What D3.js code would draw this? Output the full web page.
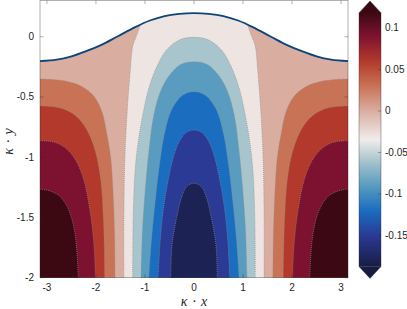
<!DOCTYPE html>
<meta charset="utf-8">
<style>
body { margin: 0; background: #fff; }
.tick-label { font: 10px "Liberation Sans", Arial, Helvetica, sans-serif; fill: #262626; }
.axis-title { font: italic 14px "Liberation Serif", "Times New Roman", serif; fill: #262626; word-spacing: 1.5px; }
</style>
<svg width="407" height="309"></svg>
<script src="https://d3js.org/d3.v7.min.js"></script>
<script>

// ---- data ----
var xTicks = [-3, -2, -1, 0, 1, 2, 3];
var yTicks = [0, -0.5, -1, -1.5, -2];
var cbTicks = [0.1, 0.05, 0, -0.05, -0.1, -0.15];
var colorRange = [-0.1876, 0.1184];
var levels = [0.09, 0.06, 0.03, 0, -0.03, -0.06, -0.09, -0.12, -0.15, -0.18];

// free surface, left half (x from -pi to 0), mirrored about x = 0
var surfaceLeft = [[-Math.PI, -0.202], [-2.8, -0.19], [-2.5, -0.163], [-2.2, -0.12], [-1.9, -0.07],
  [-1.57, 0.0], [-1.2, 0.08], [-0.9, 0.135], [-0.6, 0.172], [-0.3, 0.19], [0, 0.196]];

// contour lines, left half. positive levels run from the side wall (or surface) to the bottom,
// negative levels are arches from the bottom up to x = 0
var contour009 = [[-Math.PI, -1.264], [-2.94, -1.28], [-2.75, -1.32], [-2.6, -1.40], [-2.5, -1.5], [-2.43, -1.63], [-2.39, -1.78], [-2.36, -2]];
var contour006 = [[-Math.PI, -0.863], [-2.95, -0.868], [-2.75, -0.89], [-2.55, -0.95], [-2.38, -1.05], [-2.24, -1.2], [-2.14, -1.4], [-2.07, -1.6], [-2.03, -1.8], [-2.01, -2]];
var contour003 = [[-Math.PI, -0.575], [-2.9, -0.58], [-2.6, -0.61], [-2.35, -0.68], [-2.15, -0.8], [-2.0, -0.97], [-1.9, -1.2], [-1.85, -1.5], [-1.83, -1.75], [-1.82, -2]];
var contour000 = [[-Math.PI, -0.351], [-2.9, -0.355], [-2.6, -0.37], [-2.3, -0.41], [-2.05, -0.49], [-1.88, -0.62], [-1.78, -0.8], [-1.7, -1.0], [-1.65, -1.3], [-1.62, -1.65], [-1.61, -2]];
var contourM003 = [[-1.1, 0.09], [-1.18, 0.0], [-1.25, -0.08], [-1.3, -0.28], [-1.36, -0.6], [-1.41, -1.0], [-1.43, -1.5], [-1.43, -2]];
var contourM006 = [[-1.25, -2], [-1.24, -1.5], [-1.2, -1.1], [-1.13, -0.85], [-1.04, -0.64], [-0.93, -0.44], [-0.76, -0.25], [-0.56, -0.11], [-0.29, -0.025], [0, -0.005]];
var contourM009 = [[-1.08, -2], [-1.05, -1.6], [-0.99, -1.25], [-0.92, -0.95], [-0.82, -0.65], [-0.68, -0.45], [-0.5, -0.32], [-0.27, -0.23], [0, -0.207]];
var contourM012 = [[-0.92, -2], [-0.87, -1.7], [-0.8, -1.4], [-0.7, -1.05], [-0.6, -0.8], [-0.45, -0.6], [-0.23, -0.485], [0, -0.456]];
var contourM015 = [[-0.73, -2], [-0.69, -1.7], [-0.63, -1.45], [-0.53, -1.2], [-0.42, -1.0], [-0.3, -0.87], [-0.16, -0.795], [0, -0.774]];
var contourM018 = [[-0.475, -2], [-0.46, -1.8], [-0.435, -1.687], [-0.35, -1.494], [-0.25, -1.33], [-0.15, -1.245], [0, -1.217]];

var contours = [contour009, contour006, contour003, contour000, contourM003,
                contourM006, contourM009, contourM012, contourM015, contourM018];

// diverging colormap (balance-like), position 0..1 along the colour range
var balanceStops = [[0, "#181c43"], [0.123, "#2a3a95"], [0.22, "#1a6dc0"], [0.32, "#5a9cc0"],
  [0.418, "#a9c5cd"], [0.5, "#f1ecec"], [0.614, "#d9ada0"], [0.712, "#c97255"],
  [0.81, "#b2392b"], [0.908, "#7d1230"], [1, "#3c0912"]];

// ---- drawing ----
var svg = d3.select("svg");
var plot = {left: 40, right: 348, top: 0.6, bottom: 277.7};

var x = d3.scaleLinear().domain([-Math.PI, Math.PI]).range([plot.left, plot.right]);
var y = d3.scaleLinear().domain([-2, 0.3]).range([plot.bottom, plot.top]);

var c0 = colorRange[0], c1 = colorRange[1];
var color = d3.scaleLinear()
    .domain(balanceStops.map(function(d) { return c0 + d[0] * (c1 - c0); }))
    .range(balanceStops.map(function(d) { return d[1]; }))
    .interpolate(d3.interpolateRgb)
    .clamp(true);

var line = d3.line()
    .x(function(d) { return x(d[0]); })
    .y(function(d) { return y(d[1]); })
    .curve(d3.curveCatmullRom.alpha(0.5));

function mirror(pts) { return pts.map(function(p) { return [-p[0], p[1]]; }); }
function pt(a, b) { return "L" + x(a) + "," + y(b); }

var surfaceFull = surfaceLeft.concat(mirror(surfaceLeft).reverse().slice(1));

var defs = svg.append("defs");
defs.append("clipPath").attr("id", "water")
  .append("path")
    .attr("d", line(surfaceFull) + pt(Math.PI, -2) + pt(-Math.PI, -2) + "Z");

var g = svg.append("g").attr("clip-path", "url(#water)");

// band between -0.06 and -0.03 as background
g.append("rect")
    .attr("x", plot.left).attr("y", plot.top)
    .attr("width", plot.right - plot.left).attr("height", plot.bottom - plot.top)
    .attr("fill", color(levels[4]));

// positive side: each band coloured by its upper bound
for (var i = 4; i >= 0; i--) {
  var upper = i === 0 ? colorRange[1] : levels[i - 1];
  [1, -1].forEach(function(side) {
    var pts = side === 1 ? contours[i] : mirror(contours[i]);
    var wall = -side * Math.PI;
    var d = line(pts) + pt(wall, -2);
    if (pts[0][1] > -0.3 && Math.abs(pts[0][0]) < 3) d += pt(wall, 0.3) + pt(pts[0][0], 0.3);
    g.append("path").attr("d", d + "Z").attr("fill", color(upper));
  });
}

// negative side: arches
for (var j = 5; j < 10; j++) {
  var full = contours[j].concat(mirror(contours[j]).reverse().slice(1));
  g.append("path").attr("d", line(full) + "Z").attr("fill", color(levels[j]));
}

// dotted contour lines
contours.forEach(function(c, k) {
  var paths = k < 5 ? [c, mirror(c)] : [c.concat(mirror(c).reverse().slice(1))];
  paths.forEach(function(p) {
    g.append("path").attr("d", line(p))
      .attr("fill", "none")
      .attr("stroke", "#8c8c8c")
      .attr("stroke-width", 0.7)
      .attr("stroke-dasharray", "0.9,1.1");
  });
});

// free surface
svg.append("path")
    .attr("d", line(surfaceFull))
    .attr("fill", "none")
    .attr("stroke", "#0d4479")
    .attr("stroke-width", 1.8);

// ---- axes ----
var axisColor = "#262626", tickLen = 3.5;
svg.append("rect")
    .attr("x", plot.left).attr("y", plot.top)
    .attr("width", plot.right - plot.left).attr("height", plot.bottom - plot.top)
    .attr("fill", "none").attr("stroke", axisColor).attr("stroke-width", 0.6).attr("stroke-opacity", 0.6);

xTicks.forEach(function(t) {
  [[plot.bottom, -tickLen], [plot.top, tickLen]].forEach(function(e) {
    svg.append("line").attr("x1", x(t)).attr("x2", x(t)).attr("y1", e[0]).attr("y2", e[0] + e[1])
      .attr("stroke", axisColor).attr("stroke-width", 0.6).attr("stroke-opacity", 0.6);
  });
  svg.append("text").attr("class", "tick-label")
    .attr("x", x(t)).attr("y", 291).attr("text-anchor", "middle").text(String(t));
});

yTicks.forEach(function(t) {
  [[plot.left, tickLen], [plot.right, -tickLen]].forEach(function(e) {
    svg.append("line").attr("y1", y(t)).attr("y2", y(t)).attr("x1", e[0]).attr("x2", e[0] + e[1])
      .attr("stroke", axisColor).attr("stroke-width", 0.6).attr("stroke-opacity", 0.6);
  });
  svg.append("text").attr("class", "tick-label")
    .attr("x", 34).attr("y", y(t)).attr("dy", "0.35em").attr("text-anchor", "end").text(String(t));
});

svg.append("text").attr("class", "axis-title")
    .attr("x", x(0)).attr("y", 306).attr("text-anchor", "middle").text("κ · x");
svg.append("text").attr("class", "axis-title")
    .attr("transform", "translate(13," + y(-0.87) + ") rotate(-90)")
    .attr("text-anchor", "middle").text("κ · y");

// ---- colorbar ----
var cb = {left: 359, right: 381};
var cbY = d3.scaleLinear().domain(colorRange).range([266.7, 12.7]);
var cbMid = (cb.left + cb.right) / 2, tip = 11.7;

var grad = defs.append("linearGradient").attr("id", "cbgrad")
    .attr("x1", 0).attr("y1", 1).attr("x2", 0).attr("y2", 0);
d3.range(0, 1.0001, 0.02).forEach(function(s) {
  grad.append("stop").attr("offset", s).attr("stop-color", color(c0 + s * (c1 - c0)));
});

svg.append("rect")
    .attr("x", cb.left).attr("y", cbY(c1))
    .attr("width", cb.right - cb.left).attr("height", cbY(c0) - cbY(c1))
    .attr("fill", "url(#cbgrad)");
svg.append("path")
    .attr("d", "M" + cb.left + "," + (cbY(c1) + 0.3) + "L" + cbMid + "," + (cbY(c1) - tip) + "L" + cb.right + "," + (cbY(c1) + 0.3) + "Z")
    .attr("fill", color(c1));
svg.append("path")
    .attr("d", "M" + cb.left + "," + (cbY(c0) - 0.3) + "L" + cbMid + "," + (cbY(c0) + tip) + "L" + cb.right + "," + (cbY(c0) - 0.3) + "Z")
    .attr("fill", color(c0));
svg.append("path")
    .attr("d", "M" + cb.left + "," + cbY(c1) + "L" + cbMid + "," + (cbY(c1) - tip) + "L" + cb.right + "," + cbY(c1) +
               "L" + cb.right + "," + cbY(c0) + "L" + cbMid + "," + (cbY(c0) + tip) + "L" + cb.left + "," + cbY(c0) + "Z")
    .attr("fill", "none").attr("stroke", axisColor).attr("stroke-width", 0.6).attr("stroke-opacity", 0.6);

cbTicks.forEach(function(t) {
  svg.append("line").attr("x1", cb.right - 3).attr("x2", cb.right).attr("y1", cbY(t)).attr("y2", cbY(t))
    .attr("stroke", axisColor).attr("stroke-width", 0.6).attr("stroke-opacity", 0.6);
  svg.append("text").attr("class", "tick-label")
    .attr("x", 385).attr("y", cbY(t)).attr("dy", "0.35em").text(String(t));
});

</script>
